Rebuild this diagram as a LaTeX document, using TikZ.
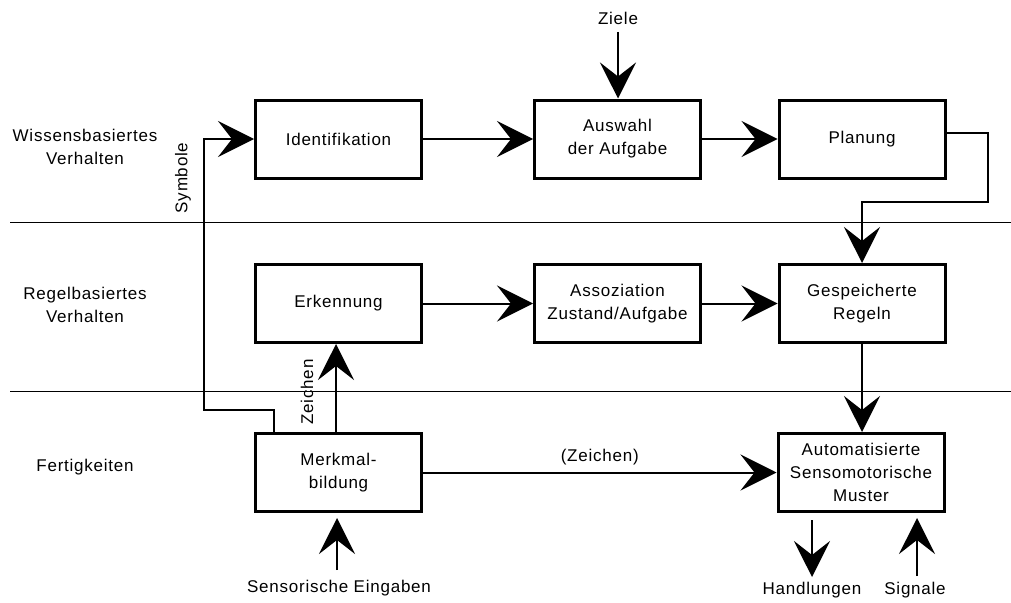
\documentclass[tikz,border=0pt]{standalone}
\usepackage{fontspec}
\setmainfont{Liberation Sans}[LetterSpace=4.5]
\usetikzlibrary{arrows.meta}
\begin{document}
\begin{tikzpicture}[x=1pt,y=-1pt,
  txt/.style={align=center, font=\fontsize{17}{23}\selectfont},
  box/.style={txt, draw, line width=3pt, minimum width=166pt, minimum height=78pt, inner sep=0pt},
  conn/.style={line width=2pt, -{Stealth[length=36pt,width=36pt,inset=14pt]}},
  sep/.style={line width=1pt}]
\useasboundingbox (0,0) rectangle (1011,602);
% separators
\draw[sep] (10,222) -- (1011,222);
\draw[sep] (10,391) -- (1011,391);
% level labels
\node[txt] (wiss) at (85,147) {Wissensbasiertes\\Verhalten};
\node[txt] (regel) at (85,305) {Regelbasiertes\\Verhalten};
\node[txt] (fert) at (85,467) {Fertigkeiten};
% boxes
\node[box] (ident) at (338.5,139) {Identifikation};
\node[box] (auswahl) at (617.5,139) {Auswahl\\der Aufgabe};
\node[box] (planung) at (862,139) {Planung};
\node[box] (erk) at (338.5,303.5) {Erkennung};
\node[box] (asso) at (617.5,303.5) {Assoziation\\Zustand/Aufgabe};
\node[box] (gesp) at (862,303.5) {Gespeicherte\\Regeln};
\node[box] (merk) at (338.5,472.5) {Merkmal-\\bildung};
\node[box] (auto) at (861,472.5) {Automatisierte\\Sensomotorische\\Muster};
% outer labels
\node[txt] (ziele) at (618,18) {Ziele};
\node[txt] (handl) at (812,590) {Handlungen};
\node[txt] (sig) at (915,590) {Signale};
\node[txt] (sens) at (339,588) {Sensorische Eingaben};
\node[txt, rotate=90] (symb) at (183,178) {Symbole};
\node[txt, rotate=90] (zeich) at (307,392) {Zeichen};
% helper coordinates
\coordinate (symbstart) at (274,432);
\coordinate (symbcorner) at (204,410);
\coordinate (zx) at (336,400);
\coordinate (planout) at (945,133);
\coordinate (planright) at (988,202);
\coordinate (h0) at (812,520);
\coordinate (h1) at (812,577);
\coordinate (s0) at (917,576);
\coordinate (s1) at (917,518);
\coordinate (e0) at (337,570);
\coordinate (e1) at (337,518);
\coordinate (z0) at (618,32);
% connectors
\draw[conn] (ident) -- (auswahl);
\draw[conn] (auswahl) -- (planung);
\draw[conn] (erk) -- (asso);
\draw[conn] (asso) -- (gesp);
\draw[conn] (merk) -- node[txt, above, yshift=3pt] (zlabel) {(Zeichen)} (auto);
\draw[conn] (z0) -- (z0 |- auswahl.north);
\draw[conn] (planout) -| (planright) -| (gesp.north);
\draw[conn] (gesp.south) -- (gesp.south |- auto.north);
\draw[conn] (symbstart) |- (symbcorner) |- (ident.west);
\draw[conn] (zx |- merk.north) -- (zx |- erk.south);
\draw[conn] (h0) -- (h1);
\draw[conn] (s0) -- (s1);
\draw[conn] (e0) -- (e1);
\end{tikzpicture}
\end{document}
